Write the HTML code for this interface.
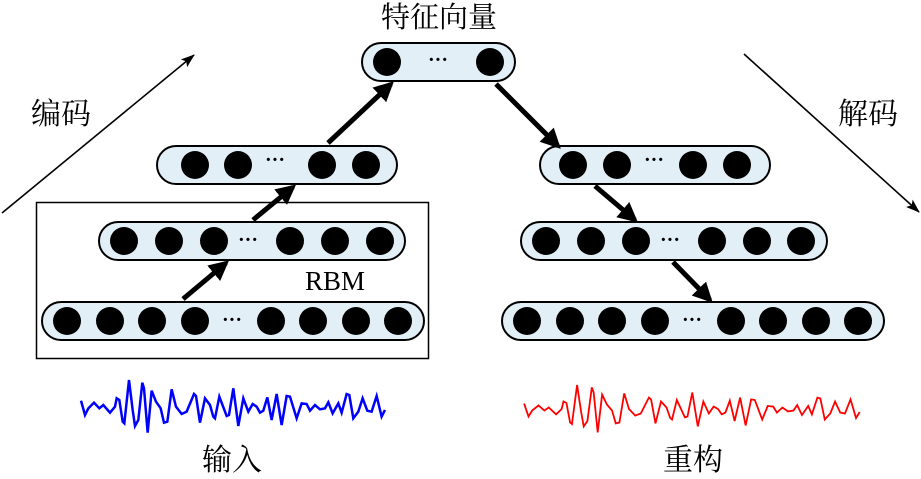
<!DOCTYPE html>
<html><head><meta charset="utf-8"><style>
html,body{margin:0;padding:0;background:#fff;}
svg text{font-family:"Liberation Serif","Noto Serif CJK SC",serif;}
</style></head><body>
<svg width="921" height="474" viewBox="0 0 921 474" xmlns="http://www.w3.org/2000/svg">
<defs>
<marker id="ah" markerWidth="4" markerHeight="4" refX="3.2" refY="2" orient="auto" markerUnits="strokeWidth"><path d="M0,0 L4,2 L0,4 Z" fill="#000"/></marker>
<marker id="at" markerWidth="14" markerHeight="10" refX="13" refY="5" orient="auto" markerUnits="userSpaceOnUse"><path d="M0,0 L14,5 L0,10 L3,5 Z" fill="#000"/></marker>
<polyline id="wave" fill="none" vector-effect="non-scaling-stroke" points="3,92 15,135 25,115 42,98 58,115 70,105 90,128 105,110 110,85 118,90 128,155 133,160 147,30 158,120 165,168 175,150 187,38 192,55 203,188 215,62 228,95 242,115 252,158 262,155 275,58 288,110 305,132 320,125 342,72 348,78 360,158 375,85 390,105 400,140 405,145 418,80 440,138 447,135 460,55 475,168 490,85 505,125 518,102 530,110 540,128 550,122 562,82 575,150 590,72 605,165 620,78 630,80 650,145 665,100 680,102 690,122 705,105 720,118 735,115 745,97 758,130 775,100 785,128 800,72 808,75 820,145 835,125 848,85 862,122 875,125 890,78 905,140 915,120"/>
</defs>

<text x="439" y="27" font-size="29" text-anchor="middle">特征向量</text>
<text x="61" y="124" font-size="30" text-anchor="middle">编码</text>
<text x="868" y="124" font-size="30" text-anchor="middle">解码</text>
<text x="232" y="470" font-size="30" text-anchor="middle">输入</text>
<text x="693" y="470" font-size="30" text-anchor="middle">重构</text>
<text x="335" y="290" font-size="27" text-anchor="middle">RBM</text>

<line x1="2" y1="213" x2="194" y2="55" stroke="#000" stroke-width="1.6" marker-end="url(#at)"/>
<line x1="744" y1="54" x2="919" y2="212" stroke="#000" stroke-width="1.6" marker-end="url(#at)"/>

<rect x="36.5" y="202.5" width="392" height="156" fill="none" stroke="#000" stroke-width="1.5"/>

<g fill="#e3eff6" stroke="#000" stroke-width="2">
<rect x="362" y="43" width="153" height="38" rx="19"/>
<rect x="157" y="146" width="240" height="38" rx="19"/>
<rect x="99" y="222" width="306" height="38" rx="19"/>
<rect x="42" y="302" width="382" height="38" rx="19"/>
<rect x="540" y="146" width="230" height="38" rx="19"/>
<rect x="521" y="222" width="306" height="38" rx="19"/>
<rect x="502" y="302" width="382" height="38" rx="19"/>
</g>
<g fill="#000">
<circle cx="387" cy="62" r="14"/><circle cx="490" cy="62" r="14"/>
<circle cx="195" cy="165" r="14"/><circle cx="238" cy="165" r="14"/><circle cx="322" cy="165" r="14"/><circle cx="366" cy="165" r="14"/>
<circle cx="124" cy="241" r="14"/><circle cx="169" cy="241" r="14"/><circle cx="214" cy="241" r="14"/><circle cx="290" cy="241" r="14"/><circle cx="335" cy="241" r="14"/><circle cx="380" cy="241" r="14"/>
<circle cx="67" cy="321" r="14"/><circle cx="110" cy="321" r="14"/><circle cx="152" cy="321" r="14"/><circle cx="195" cy="321" r="14"/><circle cx="271" cy="321" r="14"/><circle cx="313" cy="321" r="14"/><circle cx="356" cy="321" r="14"/><circle cx="398" cy="321" r="14"/>
<circle cx="573" cy="165" r="14"/><circle cx="617" cy="165" r="14"/><circle cx="693" cy="165" r="14"/><circle cx="737" cy="165" r="14"/>
<circle cx="546" cy="241" r="14"/><circle cx="591" cy="241" r="14"/><circle cx="636" cy="241" r="14"/><circle cx="712" cy="241" r="14"/><circle cx="757" cy="241" r="14"/><circle cx="801" cy="241" r="14"/>
<circle cx="527" cy="321" r="14"/><circle cx="570" cy="321" r="14"/><circle cx="612" cy="321" r="14"/><circle cx="655" cy="321" r="14"/><circle cx="731" cy="321" r="14"/><circle cx="773" cy="321" r="14"/><circle cx="816" cy="321" r="14"/><circle cx="858" cy="321" r="14"/>
</g>
<g font-size="20" text-anchor="middle" font-weight="bold">
<text x="438" y="66">···</text>
<text x="275" y="166">···</text>
<text x="248" y="246">···</text>
<text x="232" y="326">···</text>
<text x="654" y="166">···</text>
<text x="670" y="246">···</text>
<text x="692" y="326">···</text>
</g>

<g stroke="#000" stroke-width="5" marker-end="url(#ah)">
<line x1="183" y1="299" x2="226" y2="263"/>
<line x1="253" y1="220" x2="293" y2="187"/>
<line x1="328" y1="143" x2="391" y2="84"/>
<line x1="496" y1="84" x2="558" y2="146"/>
<line x1="595" y1="186" x2="635" y2="220"/>
<line x1="673" y1="262" x2="710" y2="300"/>
</g>

<use href="#wave" transform="translate(80,370) scale(0.3333)" stroke="#0000ff" stroke-width="2.5"/>
<use href="#wave" transform="translate(523,376) scale(0.368,0.3)" stroke="#ff0000" stroke-width="1.8"/>
</svg>
</body></html>
